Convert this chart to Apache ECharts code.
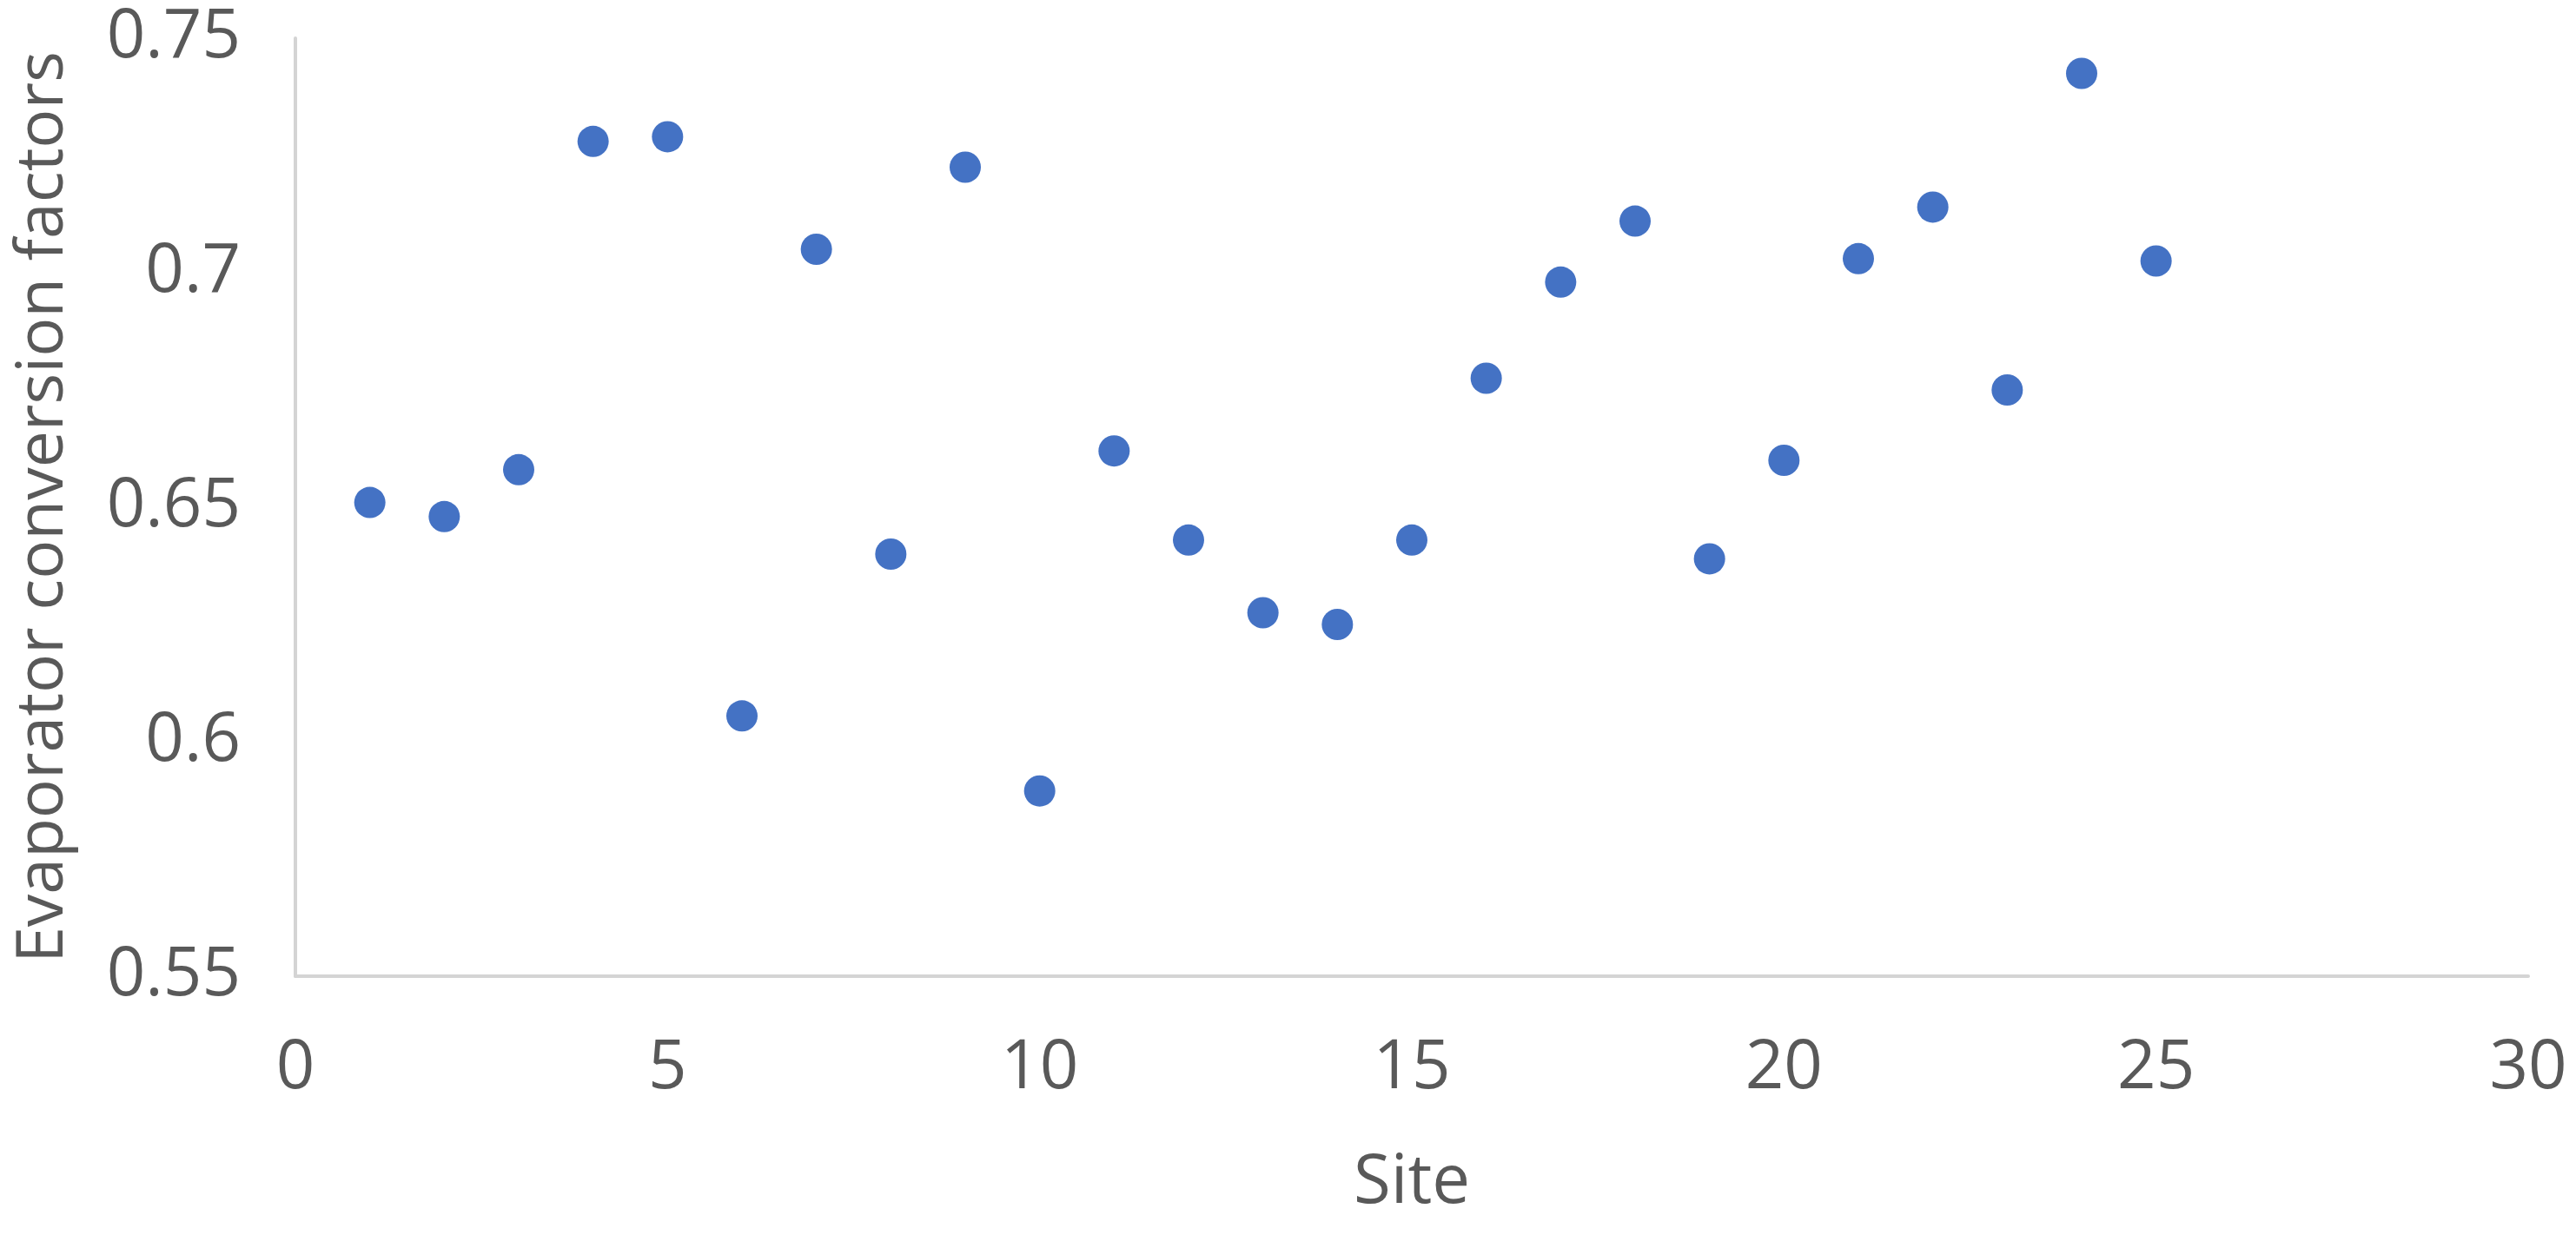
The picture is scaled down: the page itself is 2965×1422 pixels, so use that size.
<!DOCTYPE html>
<html>
<head>
<meta charset="utf-8">
<script src="https://cdn.jsdelivr.net/npm/echarts@6/dist/echarts.min.js"></script>
<style>
  html, body { margin: 0; padding: 0; background: #fff; }
  #box { width: 2965px; height: 1422px; }
</style>
</head>
<body>
<div id="box"></div>
<script>
var sites = [1, 2, 3, 4, 5, 6, 7, 8, 9, 10, 11, 12, 13, 14, 15, 16, 17, 18, 19, 20, 21, 22, 23, 24, 25];
var factors = [0.651, 0.648, 0.658, 0.728, 0.729, 0.6055, 0.705, 0.640, 0.7225, 0.5895,
  0.662, 0.643, 0.6275, 0.625, 0.643, 0.6775, 0.698, 0.711, 0.639, 0.660,
  0.703, 0.714, 0.675, 0.7425, 0.7025];
var xTicks = { min: 0, max: 30, step: 5 };
var yTicks = { min: 0.55, max: 0.75, step: 0.05 };

var points = [];
for (var i = 0; i < sites.length; i++) {
  points.push([sites[i], factors[i]]);
}

var myChart = echarts.init(document.getElementById("box"));
var labelFont = { color: "#595959", fontSize: 78, fontFamily: "Open Sans" };
var option = {
  animation: false,
  grid: { left: 340, right: 55, top: 44, bottom: 298 },
  xAxis: {
    type: "value",
    min: xTicks.min,
    max: xTicks.max,
    interval: xTicks.step,
    name: "Site",
    nameLocation: "middle",
    nameGap: 200,
    nameTextStyle: labelFont,
    axisLine: { show: true, lineStyle: { color: "#d4d4d4", width: 4 } },
    axisTick: { show: false },
    splitLine: { show: false },
    axisLabel: Object.assign({ margin: 68 }, labelFont),
  },
  yAxis: {
    type: "value",
    min: yTicks.min,
    max: yTicks.max,
    interval: yTicks.step,
    name: "Evaporator conversion factors",
    nameLocation: "middle",
    nameGap: 252,
    nameTextStyle: { color: "#595959", fontSize: 75, fontFamily: "Open Sans" },
    axisLine: { show: true, lineStyle: { color: "#d4d4d4", width: 4 } },
    axisTick: { show: false },
    splitLine: { show: false },
    axisLabel: Object.assign({ margin: 63 }, labelFont),
  },
  series: [
    {
      type: "scatter",
      data: points,
      symbol: "circle",
      symbolSize: 36,
      itemStyle: { color: "#4472c4", opacity: 1 },
    },
  ],
};
myChart.setOption(option);
</script>
</body>
</html>
